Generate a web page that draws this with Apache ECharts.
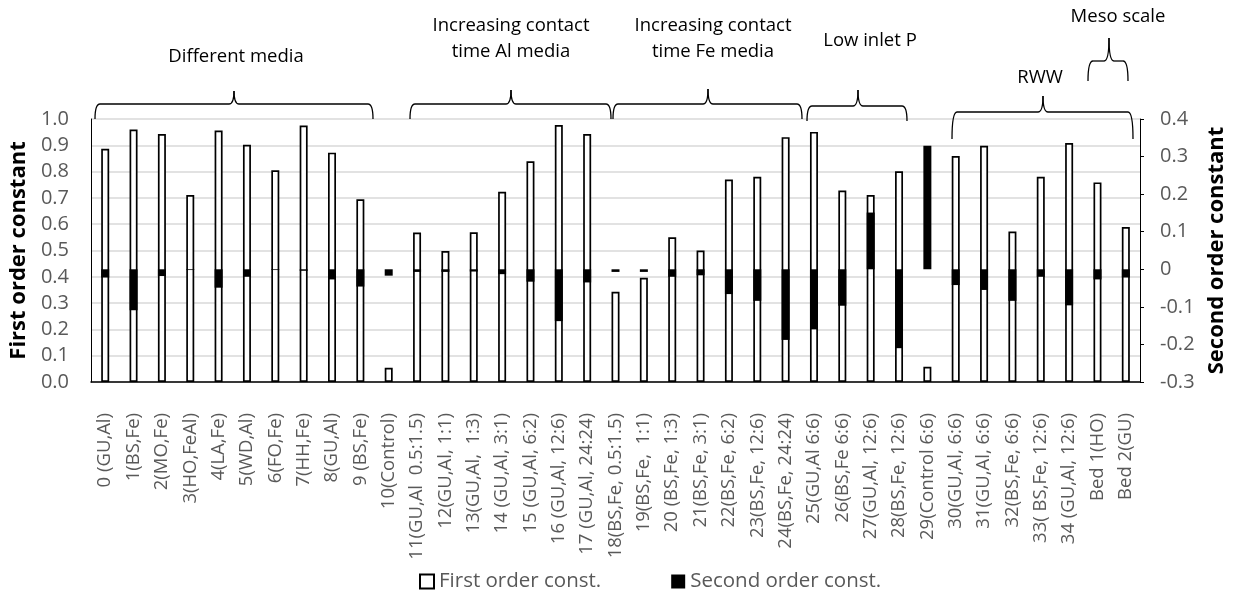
<!DOCTYPE html>
<html>
<head>
<meta charset="utf-8">
<script src="https://cdn.jsdelivr.net/npm/echarts@6/dist/echarts.min.js"></script>
<style>
  html, body { margin: 0; padding: 0; background: #fff; }
  #chart { width: 1237px; height: 591px; }
</style>
</head>
<body>
<div id="chart"></div>
<script>
// Run labels (x axis)
const categories = [
  '0 (GU,Al)', '1(BS,Fe)', '2(MO,Fe)', '3(HO,FeAl)', '4(LA,Fe)', '5(WD,Al)',
  '6(FO,Fe)', '7(HH,Fe)', '8(GU,Al)', '9 (BS,Fe)', '10(Control)',
  '11(GU,Al  0.5:1.5)', '12(GU,Al, 1:1)', '13(GU,Al,  1:3)', '14 (GU,Al, 3:1)',
  '15 (GU,Al, 6:2)', '16 (GU,Al, 12:6)', '17 (GU,Al, 24:24)',
  '18(BS,Fe, 0.5:1.5)', '19(BS,Fe,  1:1)', '20 (BS,Fe, 1:3)', '21(BS,Fe, 3:1)',
  '22(BS,Fe, 6:2)', '23(BS,Fe, 12:6)', '24(BS,Fe, 24:24)',
  '25(GU,Al 6:6)', '26(BS,Fe 6:6)', '27(GU,Al, 12:6)', '28(BS,Fe, 12:6)',
  '29(Control 6:6)', '30(GU,Al, 6:6)', '31(GU,Al, 6:6)', '32(BS,Fe, 6:6)',
  '33( BS,Fe, 12:6)', '34 (GU,Al, 12:6)', 'Bed 1(HO)', 'Bed 2(GU)'
];

// First order rate constants (left axis)
const firstOrder = [
  0.887, 0.960, 0.943, 0.711, 0.956, 0.902, 0.805, 0.975, 0.872, 0.695, 0.054,
  0.568, 0.498, 0.569, 0.723, 0.839, 0.977, 0.943,
  0.343, 0.396, 0.550, 0.500, 0.770, 0.780, 0.931,
  0.951, 0.728, 0.711, 0.801, 0.058,
  0.859, 0.898, 0.572, 0.780, 0.909, 0.759, 0.589
];

// Second order rate constants (right axis)
const secondOrder = [
  -0.022, -0.109, -0.018, -0.002, -0.049, -0.020, -0.002, -0.004, -0.027, -0.046, -0.017,
  -0.007, -0.007, -0.006, -0.013, -0.033, -0.138, -0.035,
  -0.007, -0.007, -0.020, -0.016, -0.066, -0.084, -0.188,
  -0.160, -0.097, 0.151, -0.210, 0.329,
  -0.042, -0.055, -0.084, -0.020, -0.096, -0.027, -0.022
];

const seriesNames = ['First order const.', 'Second order const.'];

// Group annotations above the plot: brace geometry (px) and caption
const groups = [
  { x0: 95,   x1: 373,  xt: 234,  yh: 104, yb: 119, yt: 91, label: 'Different media',                  lx: 236,  ly: 57 },
  { x0: 410,  x1: 611,  xt: 511,  yh: 104, yb: 119, yt: 90, label: 'Increasing contact\ntime Al media', lx: 511,  ly: 39 },
  { x0: 613,  x1: 802,  xt: 708,  yh: 104, yb: 119, yt: 89, label: 'Increasing contact\ntime Fe media', lx: 713,  ly: 39 },
  { x0: 807,  x1: 907,  xt: 858,  yh: 106, yb: 121, yt: 90, label: 'Low inlet P',                      lx: 870,  ly: 41 },
  { x0: 952,  x1: 1133, xt: 1043, yh: 112, yb: 139, yt: 96, label: 'RWW',                              lx: 1040, ly: 78 },
  { x0: 1088, x1: 1128, xt: 1109, yh: 61,  yb: 81,  yt: 38, label: 'Meso scale',                       lx: 1118, ly: 17 }
];

const FONT = '"Open Sans", "Noto Sans", sans-serif';
const GREY = '#595959';
const BRACE_STYLE = { stroke: '#000', fill: null, lineWidth: 1.3 };

// A curly brace made of straight runs and quadratic corners
function braceElements(g) {
  const r = 5;
  const curve = function (x1, y1, cx, cy, x2, y2) {
    return { type: 'bezierCurve', shape: { x1: x1, y1: y1, x2: x2, y2: y2, cpx1: cx, cpy1: cy }, style: BRACE_STYLE, z: 100 };
  };
  const line = function (x1, y1, x2, y2) {
    return { type: 'line', shape: { x1: x1, y1: y1, x2: x2, y2: y2 }, style: BRACE_STYLE, z: 100 };
  };
  return [
    curve(g.x0, g.yb, g.x0, g.yh, g.x0 + r, g.yh),
    line(g.x0 + r, g.yh, g.xt - r, g.yh),
    curve(g.xt - r, g.yh, g.xt, g.yh, g.xt, g.yt),
    curve(g.xt, g.yt, g.xt, g.yh, g.xt + r, g.yh),
    line(g.xt + r, g.yh, g.x1 - r, g.yh),
    curve(g.x1 - r, g.yh, g.x1, g.yh, g.x1, g.yb)
  ];
}

const graphics = [];
groups.forEach(function (g) {
  braceElements(g).forEach(function (el) { graphics.push(el); });
  graphics.push({
    type: 'text',
    x: g.lx, y: g.ly,
    style: {
      text: g.label,
      font: '18.5px ' + FONT,
      fill: '#000',
      textAlign: 'center',
      textVerticalAlign: 'middle',
      lineHeight: 26
    },
    z: 100
  });
});

const chart = echarts.init(document.getElementById('chart'), null, { renderer: 'canvas' });

chart.setOption({
  animation: false,
  backgroundColor: '#fff',
  textStyle: { fontFamily: FONT },
  grid: { left: 89, right: 97, top: 119, bottom: 209, containLabel: false },
  legend: {
    data: seriesNames,
    left: 414,
    top: 566,
    itemWidth: 14,
    itemHeight: 14,
    itemGap: 70,
    icon: 'rect',
    textStyle: { color: GREY, fontSize: 20.5, fontFamily: FONT }
  },
  xAxis: {
    type: 'category',
    data: categories,
    boundaryGap: true,
    axisLine: { show: true, lineStyle: { color: '#000', width: 1.5 } },
    axisTick: { show: false },
    axisLabel: {
      interval: 0,
      rotate: 90,
      margin: 31,
      color: GREY,
      fontSize: 18.5,
      fontFamily: FONT
    }
  },
  yAxis: [
    {
      type: 'value',
      min: 0, max: 1, interval: 0.1,
      name: 'First order constant',
      nameLocation: 'middle',
      nameRotate: 90,
      nameGap: 51,
      nameTextStyle: { color: '#000', fontSize: 22, fontWeight: 'bold', fontFamily: FONT },
      axisLine: { show: true, lineStyle: { color: '#000', width: 1 } },
      axisTick: { show: false },
      axisLabel: {
        color: GREY, fontSize: 20, margin: 22, fontFamily: FONT,
        formatter: function (v) { return v.toFixed(1); }
      },
      splitLine: { show: true, lineStyle: { color: '#d9d9d9', width: 1.5 } }
    },
    {
      type: 'value',
      position: 'right',
      min: -0.3, max: 0.4, interval: 0.1,
      name: 'Second order constant',
      nameLocation: 'middle',
      nameRotate: 90,
      nameGap: 59,
      nameTextStyle: { color: '#000', fontSize: 22, fontWeight: 'bold', fontFamily: FONT },
      axisLine: { show: true, lineStyle: { color: '#000', width: 1 } },
      axisTick: { show: true, inside: false, length: 4, lineStyle: { color: '#000' } },
      axisLabel: {
        color: GREY, fontSize: 20, margin: 20, fontFamily: FONT,
        formatter: function (v) {
          const r = Math.round(v * 10) / 10;
          return r === 0 ? '0' : r.toFixed(1);
        }
      },
      splitLine: { show: false }
    }
  ],
  series: [
    {
      name: seriesNames[0],
      type: 'bar',
      yAxisIndex: 0,
      data: firstOrder,
      barWidth: 8,
      barGap: '-100%',
      itemStyle: { color: '#fff', borderColor: '#000', borderWidth: 1.7 },
      z: 2
    },
    {
      name: seriesNames[1],
      type: 'bar',
      yAxisIndex: 1,
      data: secondOrder,
      barWidth: 8,
      barGap: '-100%',
      itemStyle: { color: '#000' },
      z: 3
    }
  ],
  graphic: { elements: graphics }
});
</script>
</body>
</html>
